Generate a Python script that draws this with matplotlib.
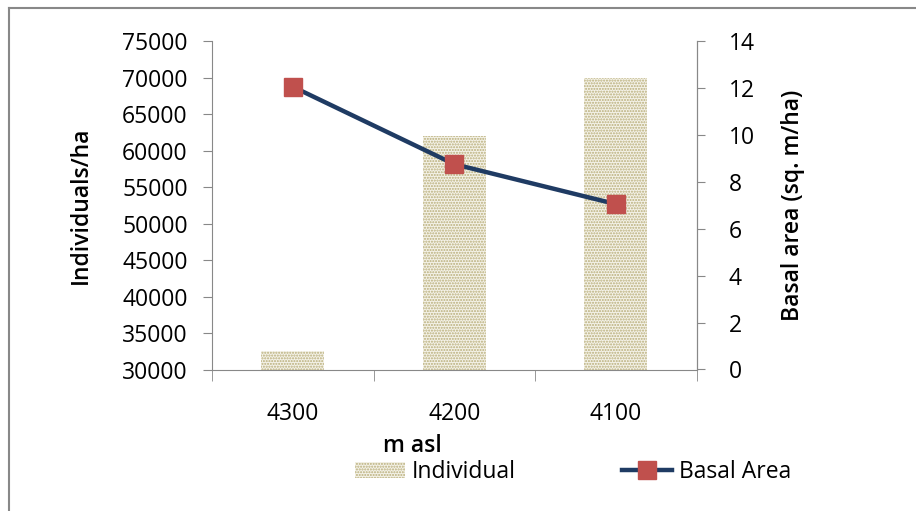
import matplotlib
matplotlib.use("Agg")
import matplotlib.pyplot as plt
from matplotlib.lines import Line2D
from matplotlib.patches import Patch
import numpy as np

elevations = ["4300", "4200", "4100"]
individuals = [32600, 62000, 70000]
basal_area = [12.05, 8.75, 7.05]

plt.rcParams['font.family'] = ['Open Sans', 'DejaVu Sans']
plt.rcParams['hatch.linewidth'] = 1.0

bar_face = '#f4f2e8'
bar_hatch = '#b8ad78'
line_col = '#1f3b63'
mark_col = '#c0504d'
fs = 16.5

fig = plt.figure(figsize=(9.16, 5.11), dpi=100)
ax = fig.add_axes([212/916, 1 - 369.5/511, (696.5-212)/916, (369.5-41)/511])
x = np.arange(len(elevations))

ax.bar(x, individuals, width=0.39, color=bar_face, edgecolor=bar_hatch,
       hatch='......', linewidth=0)
ax.set_ylim(30000, 75000)
ax.set_xlim(-0.5, 2.5)
ax.set_yticks(range(30000, 75001, 5000))
ax.set_xticks([])
ax.set_xticks([-0.5, 0.5, 1.5, 2.5], minor=True)
ax.tick_params(axis='x', which='minor', length=8, color='#888888', direction='out')
ax.tick_params(axis='y', length=6.5, color='#888888', labelsize=fs, pad=11)
for i, lab in enumerate(elevations):
    ax.text(i, 25500, lab, ha='center', va='top', fontsize=fs)
ax.spines['top'].set_visible(False)
for s in ['left', 'bottom', 'right']:
    ax.spines[s].set_color('#888888')
ax.set_ylabel('Individuals/ha', fontsize=fs, fontweight='semibold')
ax.yaxis.set_label_coords(-0.246, 0.5)

ax2 = ax.twinx()
ax2.plot(x, basal_area, color=line_col, lw=3.2, marker='s', markersize=13.5,
         markerfacecolor=mark_col, markeredgecolor=mark_col)
ax2.set_ylim(0, 14)
ax2.set_yticks(range(0, 15, 2))
ax2.tick_params(axis='y', length=6, color='#888888', labelsize=fs, pad=17)
ax2.spines['top'].set_visible(False)
ax2.spines['right'].set_color('#888888')
ax2.spines['left'].set_visible(False)
ax2.spines['bottom'].set_visible(False)
ax2.set_ylabel('Basal area (sq. m/ha)', fontsize=fs, fontweight='semibold')
ax2.yaxis.set_label_coords(1.175, 0.5)

fig.text(412/916, 1 - 446/511, 'm asl', ha='center', va='center', fontsize=fs, fontweight='semibold')

handles = [Patch(facecolor=bar_face, edgecolor=bar_hatch, hatch='......', linewidth=0),
           Line2D([], [], color=line_col, lw=3.2, marker='s', markersize=13.5,
                  markerfacecolor=mark_col, markeredgecolor=mark_col)]
fig.legend(handles, ['Individual', 'Basal Area'], loc='center',
           bbox_to_anchor=(573/916, 1 - 472/511), ncol=2, frameon=False,
           fontsize=fs, columnspacing=4.6, handlelength=2.2, handletextpad=0.3)

# chart border (left and top edges visible)
fig.add_artist(Line2D([9/916, 9/916], [0, 1 - 8/511], color='#888888', lw=1.5))
fig.add_artist(Line2D([9/916, 1], [1 - 8/511, 1 - 8/511], color='#888888', lw=1.5))

fig.savefig('out.png', dpi=100)
